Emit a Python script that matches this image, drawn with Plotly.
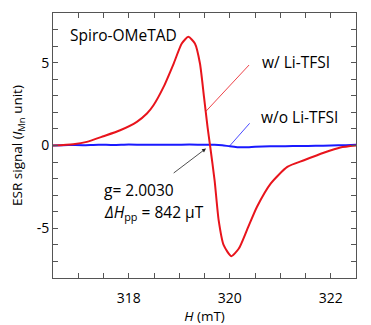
import plotly.graph_objects as go

# Red: w/ Li-TFSI
h_red = [316.5, 316.9, 317.17, 317.5, 317.83, 318.16, 318.36, 318.49, 318.69, 318.89,
         319.05, 319.18, 319.31, 319.41, 319.49, 319.56, 319.61, 319.70, 319.78, 319.88,
         320.03, 320.18, 320.34, 320.54, 320.81, 321.14, 321.47, 321.86, 322.19, 322.5]
s_red = [0.0, 0.08, 0.22, 0.56, 0.92, 1.43, 1.93, 2.43, 3.54, 4.95,
         6.16, 6.56, 6.16, 4.95, 2.93, 1.12, 0.0, -2.1, -4.5, -6.02,
         -6.68, -6.22, -5.11, -3.7, -2.3, -1.29, -0.89, -0.44, -0.12, 0.0]

# Blue: w/o Li-TFSI
h_blue = [316.5, 316.8, 317.1, 317.4, 317.7, 318.0, 318.3, 318.6, 318.9, 319.2,
          319.5, 319.7, 319.85, 320.0, 320.15, 320.3, 320.5, 320.8, 321.1, 321.4,
          321.7, 322.0, 322.3, 322.5]
s_blue = [0.0, 0.03, 0.02, 0.05, 0.03, 0.06, 0.04, 0.05, 0.04, 0.06,
          0.04, 0.05, 0.02, -0.05, -0.1, -0.11, -0.08, -0.05, -0.04, -0.03,
          -0.02, 0.0, 0.02, 0.04]

x_ticks = [318, 320, 322]
y_ticks = [-5, 0, 5]

fig = go.Figure()
fig.add_trace(go.Scatter(x=h_blue, y=s_blue, mode="lines",
                         line=dict(color="#1a1aff", width=2, shape="spline", smoothing=0.5),
                         showlegend=False))
fig.add_trace(go.Scatter(x=h_red, y=s_red, mode="lines",
                         line=dict(color="#e8141c", width=2, shape="spline", smoothing=0.6),
                         showlegend=False))

font = "Open Sans, Noto Sans, sans-serif"
axcol = "#555555"
fig.update_layout(
    width=371, height=325,
    margin=dict(l=53, r=15, t=13, b=47),
    paper_bgcolor="white", plot_bgcolor="white",
    font=dict(family=font, size=14, color="black"),
    xaxis=dict(range=[316.5, 322.5], tickmode="array", tickvals=x_ticks,
               ticktext=[str(v) for v in x_ticks], automargin=False,
               ticks="inside", ticklen=5, tickcolor=axcol, tickwidth=1,
               ticklabelstandoff=7,
               minor=dict(dtick=0.5, tick0=316, ticks="inside", ticklen=5, tickcolor=axcol),
               showline=True, linecolor=axcol, linewidth=1, mirror="ticks",
               showgrid=False, zeroline=False,
               title=dict(text="<i>H</i> (mT)", font=dict(size=13.5), standoff=8)),
    yaxis=dict(range=[-8, 8], tickmode="array", tickvals=y_ticks,
               ticktext=[str(v) for v in y_ticks], automargin=False,
               ticks="inside", ticklen=5, tickcolor=axcol, tickwidth=1,
               minor=dict(dtick=1, tick0=0, ticks="inside", ticklen=5, tickcolor=axcol),
               showline=True, linecolor=axcol, linewidth=1, mirror="ticks",
               showgrid=False, zeroline=False,
               title=dict(text="ESR signal (<i>I</i><sub>Mn</sub> unit)", font=dict(size=13.5), standoff=10)),
)

afont = dict(size=15.5)
fig.add_annotation(x=0.049, y=0.918, xref="paper", yref="paper", text="Spiro-OMeTAD",
                   showarrow=False, xanchor="left", yanchor="middle", font=afont)
# w/ Li-TFSI label with red leader
fig.add_annotation(x=319.53, y=2.07, ax=320.41, ay=4.95, xref="x", yref="y", axref="x", ayref="y",
                   text="", showarrow=True, arrowhead=0, arrowcolor="#e8141c", arrowwidth=0.8)
fig.add_annotation(x=320.59, y=5.05, xref="x", yref="y", text="w/ Li-TFSI",
                   showarrow=False, xanchor="left", yanchor="middle", font=afont)
# w/o Li-TFSI label with blue leader
fig.add_annotation(x=320.0, y=-0.02, ax=320.42, ay=1.43, xref="x", yref="y", axref="x", ayref="y",
                   text="", showarrow=True, arrowhead=0, arrowcolor="#1a1aff", arrowwidth=0.8)
fig.add_annotation(x=320.57, y=1.71, xref="x", yref="y", text="w/o Li-TFSI",
                   showarrow=False, xanchor="left", yanchor="middle", font=afont)
# g-value arrow
fig.add_annotation(x=319.53, y=-0.18, ax=318.86, ay=-1.73, xref="x", yref="y", axref="x", ayref="y",
                   text="", showarrow=True, arrowhead=2, arrowsize=1, arrowcolor="#222222", arrowwidth=0.8)
fig.add_annotation(x=317.47, y=-2.7, xref="x", yref="y", text="g= 2.0030",
                   showarrow=False, xanchor="left", yanchor="middle", font=afont)
fig.add_annotation(x=317.47, y=-4.03, xref="x", yref="y",
                   text="<i>ΔH</i><sub>pp</sub> = 842 µT",
                   showarrow=False, xanchor="left", yanchor="middle", font=afont)

fig.write_html("out.html")
